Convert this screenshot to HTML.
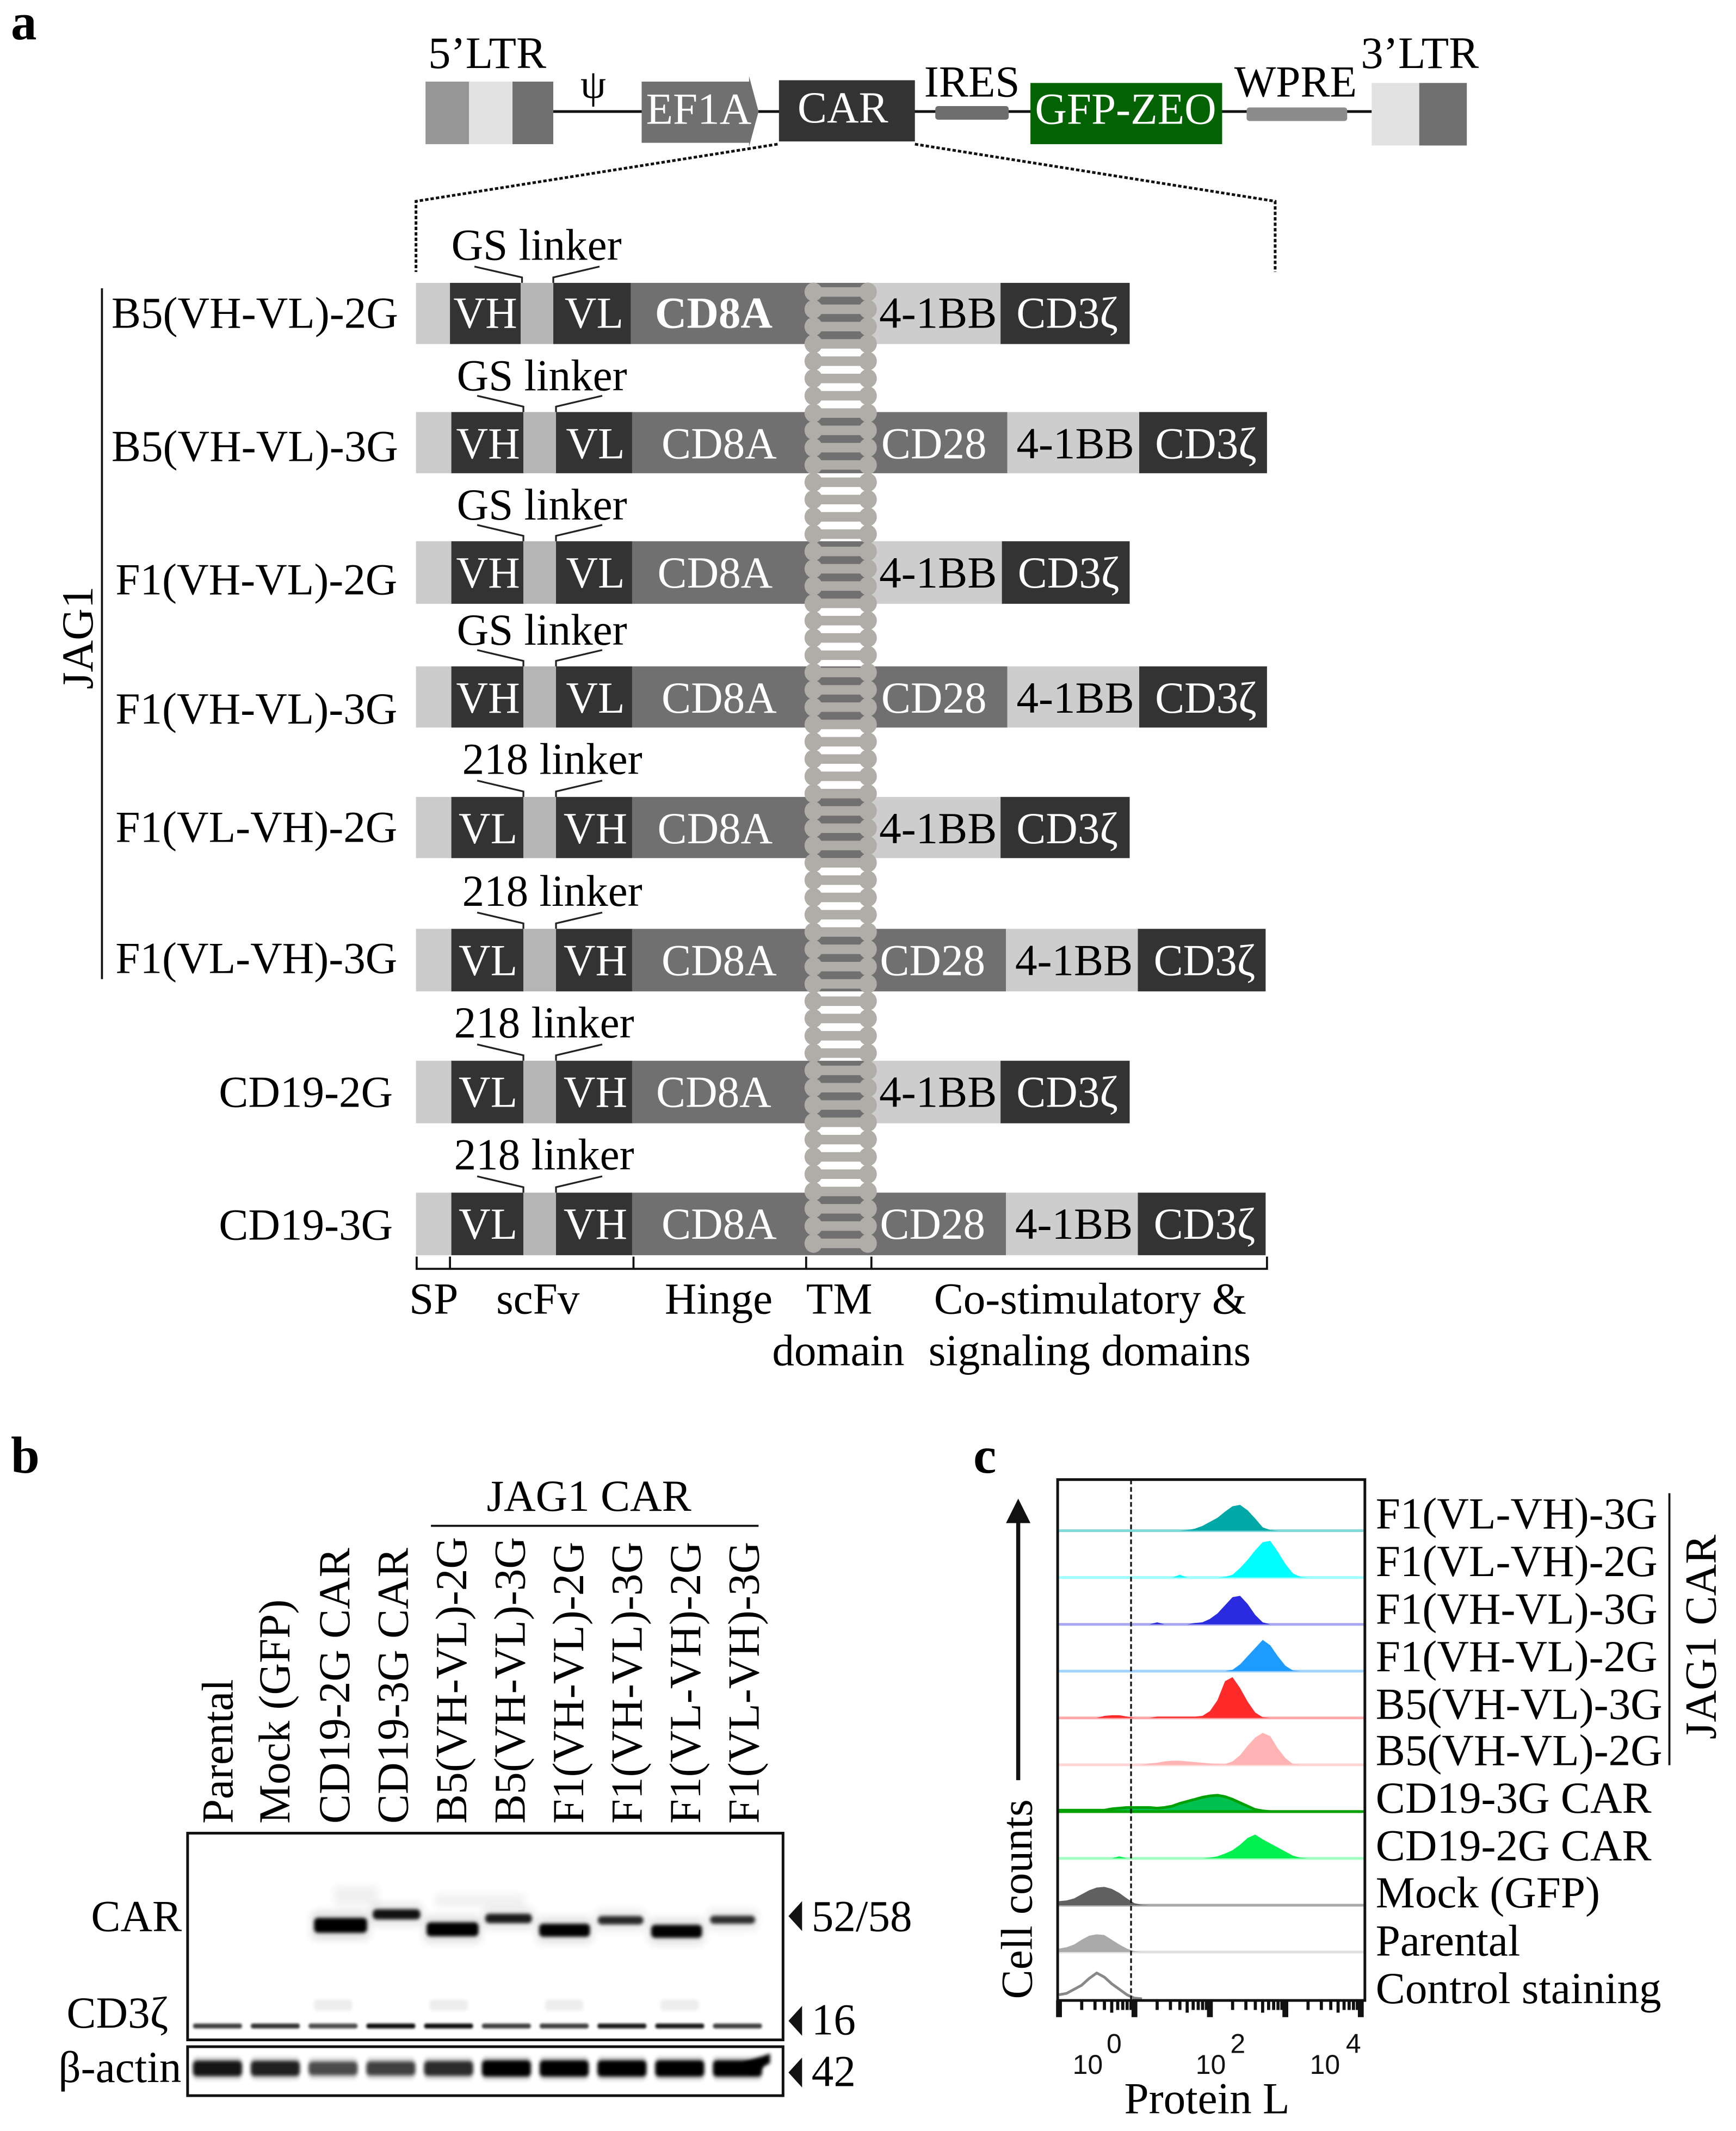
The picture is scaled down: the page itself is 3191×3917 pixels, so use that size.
<!DOCTYPE html>
<html lang="en">
<head>
<meta charset="utf-8">
<title>CAR constructs figure</title>
<style>
html,body{margin:0;padding:0;background:#fff;width:3191px;height:3917px;overflow:hidden}
svg{display:block}
text{font-family:"Liberation Serif","DejaVu Serif",serif;font-size:32.45px;fill:#000}
.w{fill:#fff}
.m{text-anchor:middle}
.b{font-weight:bold}
.pl{font-size:38px;font-weight:bold}
.ltr{font-size:33px}
.t{font-family:"Liberation Sans","DejaVu Sans",sans-serif;font-size:20px;fill:#111}
.sp{fill:#cccbcb}.dk{fill:#333}.gp{fill:#b5b5b5}.md{fill:#707070}.lt{fill:#cdcdcd}
</style>
</head>
<body>
<svg id="fig" xmlns="http://www.w3.org/2000/svg" width="3191" height="3917" viewBox="0 0 1277 1567" preserveAspectRatio="none">
<defs>
<filter id="bl" x="-30%" y="-200%" width="160%" height="500%"><feGaussianBlur stdDeviation="1.3"/></filter>
<filter id="bl2" x="-30%" y="-200%" width="160%" height="500%"><feGaussianBlur stdDeviation="3"/></filter>
<filter id="bl3" x="-30%" y="-300%" width="160%" height="700%"><feGaussianBlur stdDeviation="0.9"/></filter>
</defs>
<rect width="1277" height="1567" fill="#fff"/>

<text class="pl" x="8" y="29">a</text>
<text class="pl" x="8" y="1083">b</text>
<text class="pl" x="716" y="1083">c</text>

<g>
<line x1="407" y1="82" x2="1009" y2="82" stroke="#111" stroke-width="2"/>
<rect x="313" y="60" width="32" height="46" fill="#969696"/>
<rect x="345" y="60" width="32" height="46" fill="#e2e2e2"/>
<rect x="377" y="60" width="30" height="46" fill="#707070"/>
<polygon points="472,60 551,60 551,56 558,82 551,108 551,105 472,105" fill="#707070"/>
<rect x="573" y="59" width="100" height="45" fill="#333"/>
<rect x="688" y="78" width="54" height="10" rx="2" fill="#6e6e6e"/>
<rect x="758" y="61" width="141" height="45" fill="#036303"/>
<rect x="917" y="79" width="74" height="10" rx="2" fill="#8c8c8c"/>
<rect x="1009" y="61" width="35" height="46" fill="#e2e2e2"/>
<rect x="1044" y="61" width="35" height="46" fill="#707070"/>
<text class="ltr" x="315" y="50">5’LTR</text>
<text x="427" y="72" style="font-size:30px">ψ</text>
<text class="w m" x="514" y="91">EF1A</text>
<text class="w m" x="620" y="90">CAR</text>
<text class="m" x="715" y="71">IRES</text>
<text class="w m" x="828" y="91">GFP-ZEO</text>
<text class="m" x="953" y="71">WPRE</text>
<text class="ltr" x="1001" y="50">3’LTR</text>
<g fill="none" stroke="#111" stroke-width="2" stroke-dasharray="2.5 1.5">
<polyline points="572,106 306,148 306,200"/>
<polyline points="673,106 938,148 938,200"/>
</g>
</g>

<g>
<g>
<rect class="sp" x="306" y="208" width="25" height="45"/>
<rect class="dk" x="331" y="208" width="52" height="45"/>
<rect class="gp" x="383" y="208" width="24" height="45"/>
<rect class="dk" x="407" y="208" width="57" height="45"/>
<rect class="md" x="464" y="208" width="176" height="45"/>
<rect class="lt" x="640" y="208" width="96" height="45"/>
<rect class="dk" x="736" y="208" width="95" height="45"/>
</g>
<g>
<rect class="sp" x="306" y="303" width="26" height="45"/>
<rect class="dk" x="332" y="303" width="53" height="45"/>
<rect class="gp" x="385" y="303" width="24" height="45"/>
<rect class="dk" x="409" y="303" width="56" height="45"/>
<rect class="md" x="465" y="303" width="276" height="45"/>
<rect class="lt" x="741" y="303" width="97" height="45"/>
<rect class="dk" x="838" y="303" width="94" height="45"/>
</g>
<g>
<rect class="sp" x="306" y="398" width="26" height="46"/>
<rect class="dk" x="332" y="398" width="53" height="46"/>
<rect class="gp" x="385" y="398" width="24" height="46"/>
<rect class="dk" x="409" y="398" width="56" height="46"/>
<rect class="md" x="465" y="398" width="175" height="46"/>
<rect class="lt" x="640" y="398" width="97" height="46"/>
<rect class="dk" x="737" y="398" width="94" height="46"/>
</g>
<g>
<rect class="sp" x="306" y="490" width="26" height="45"/>
<rect class="dk" x="332" y="490" width="53" height="45"/>
<rect class="gp" x="385" y="490" width="24" height="45"/>
<rect class="dk" x="409" y="490" width="56" height="45"/>
<rect class="md" x="465" y="490" width="276" height="45"/>
<rect class="lt" x="741" y="490" width="97" height="45"/>
<rect class="dk" x="838" y="490" width="94" height="45"/>
</g>
<g>
<rect class="sp" x="306" y="586" width="26" height="45"/>
<rect class="dk" x="332" y="586" width="53" height="45"/>
<rect class="gp" x="385" y="586" width="24" height="45"/>
<rect class="dk" x="409" y="586" width="56" height="45"/>
<rect class="md" x="465" y="586" width="175" height="45"/>
<rect class="lt" x="640" y="586" width="96" height="45"/>
<rect class="dk" x="736" y="586" width="95" height="45"/>
</g>
<g>
<rect class="sp" x="306" y="683" width="26" height="46"/>
<rect class="dk" x="332" y="683" width="53" height="46"/>
<rect class="gp" x="385" y="683" width="24" height="46"/>
<rect class="dk" x="409" y="683" width="56" height="46"/>
<rect class="md" x="465" y="683" width="275" height="46"/>
<rect class="lt" x="740" y="683" width="97" height="46"/>
<rect class="dk" x="837" y="683" width="94" height="46"/>
</g>
<g>
<rect class="sp" x="306" y="780" width="26" height="46"/>
<rect class="dk" x="332" y="780" width="53" height="46"/>
<rect class="gp" x="385" y="780" width="24" height="46"/>
<rect class="dk" x="409" y="780" width="56" height="46"/>
<rect class="md" x="465" y="780" width="175" height="46"/>
<rect class="lt" x="640" y="780" width="96" height="46"/>
<rect class="dk" x="736" y="780" width="95" height="46"/>
</g>
<g>
<rect class="sp" x="306" y="877" width="26" height="46"/>
<rect class="dk" x="332" y="877" width="53" height="46"/>
<rect class="gp" x="385" y="877" width="24" height="46"/>
<rect class="dk" x="409" y="877" width="56" height="46"/>
<rect class="md" x="465" y="877" width="275" height="46"/>
<rect class="lt" x="740" y="877" width="97" height="46"/>
<rect class="dk" x="837" y="877" width="94" height="46"/>
</g>
</g>

<g id="coil"></g>

<g fill="none" stroke="#222" stroke-width="1.3">
<polyline points="349,196 384,204 384,208"/><polyline points="441,196 407,204 407,208"/>
<polyline points="351,291 385,299 385,303"/><polyline points="443,291 409,299 409,303"/>
<polyline points="351,386 385,394 385,398"/><polyline points="443,386 409,394 409,398"/>
<polyline points="351,478 385,486 385,490"/><polyline points="443,478 409,486 409,490"/>
<polyline points="351,574 385,582 385,586"/><polyline points="443,574 409,582 409,586"/>
<polyline points="351,671 385,679 385,683"/><polyline points="443,671 409,679 409,683"/>
<polyline points="351,768 385,776 385,780"/><polyline points="443,768 409,776 409,780"/>
<polyline points="351,865 385,873 385,877"/><polyline points="443,865 409,873 409,877"/>
</g>

<g>
<text x="332" y="191">GS linker</text>
<text x="336" y="287">GS linker</text>
<text x="336" y="382">GS linker</text>
<text x="336" y="474">GS linker</text>
<text x="340" y="569">218 linker</text>
<text x="340" y="666">218 linker</text>
<text x="334" y="763">218 linker</text>
<text x="334" y="860">218 linker</text>
</g>

<g>
<text x="82" y="241">B5(VH-VL)-2G</text>
<text x="82" y="339">B5(VH-VL)-3G</text>
<text x="85" y="437">F1(VH-VL)-2G</text>
<text x="85" y="532">F1(VH-VL)-3G</text>
<text x="85" y="619">F1(VL-VH)-2G</text>
<text x="85" y="715.5">F1(VL-VH)-3G</text>
<text x="161" y="814">CD19-2G</text>
<text x="161" y="911.5">CD19-3G</text>
<line x1="75" y1="212" x2="75" y2="720" stroke="#111" stroke-width="1.5"/>
<text class="m" transform="translate(68,469) rotate(-90)">JAG1</text>
</g>

<g>
<text class="w m" x="357" y="241">VH</text><text class="w m" x="437" y="241">VL</text><text class="w m b" x="525" y="241">CD8A</text><text class="m" x="690" y="241">4-1BB</text><text class="w m" x="785" y="241">CD3ζ</text>
<text class="w m" x="359" y="337">VH</text><text class="w m" x="438" y="337">VL</text><text class="w m" x="529" y="337">CD8A</text><text class="w m" x="687" y="337">CD28</text><text class="m" x="791" y="337">4-1BB</text><text class="w m" x="887" y="337">CD3ζ</text>
<text class="w m" x="359" y="432">VH</text><text class="w m" x="438" y="432">VL</text><text class="w m" x="526" y="432">CD8A</text><text class="m" x="690" y="432">4-1BB</text><text class="w m" x="786" y="432">CD3ζ</text>
<text class="w m" x="359" y="524">VH</text><text class="w m" x="438" y="524">VL</text><text class="w m" x="529" y="524">CD8A</text><text class="w m" x="687" y="524">CD28</text><text class="m" x="791" y="524">4-1BB</text><text class="w m" x="887" y="524">CD3ζ</text>
<text class="w m" x="359" y="620">VL</text><text class="w m" x="438" y="620">VH</text><text class="w m" x="526" y="620">CD8A</text><text class="m" x="690" y="620">4-1BB</text><text class="w m" x="785" y="620">CD3ζ</text>
<text class="w m" x="359" y="717">VL</text><text class="w m" x="438" y="717">VH</text><text class="w m" x="529" y="717">CD8A</text><text class="w m" x="686" y="717">CD28</text><text class="m" x="790" y="717">4-1BB</text><text class="w m" x="886" y="717">CD3ζ</text>
<text class="w m" x="359" y="814">VL</text><text class="w m" x="438" y="814">VH</text><text class="w m" x="525" y="814">CD8A</text><text class="m" x="690" y="814">4-1BB</text><text class="w m" x="785" y="814">CD3ζ</text>
<text class="w m" x="359" y="911">VL</text><text class="w m" x="438" y="911">VH</text><text class="w m" x="529" y="911">CD8A</text><text class="w m" x="686" y="911">CD28</text><text class="m" x="790" y="911">4-1BB</text><text class="w m" x="886" y="911">CD3ζ</text>
</g>

<g>
<path d="M306.5 924V933H932V924M331 924V933M466 924V933M593 924V933M641 924V933" fill="none" stroke="#111" stroke-width="1.5"/>
<text x="301" y="966">SP</text>
<text x="365" y="966">scFv</text>
<text x="489" y="966">Hinge</text>
<text x="593" y="966">TM</text>
<text x="568" y="1004">domain</text>
<text x="687" y="966">Co-stimulatory &amp;</text>
<text x="683" y="1004">signaling domains</text>
</g>

<g>
<text x="358" y="1111">JAG1 CAR</text>
<line x1="317" y1="1122" x2="558" y2="1122" stroke="#111" stroke-width="1.5"/>
<g id="lane-labels">
<text transform="translate(171,1341) rotate(-90)">Parental</text>
<text transform="translate(213,1341) rotate(-90)">Mock (GFP)</text>
<text transform="translate(257,1341) rotate(-90)">CD19-2G CAR</text>
<text transform="translate(300,1341) rotate(-90)">CD19-3G CAR</text>
<text transform="translate(343,1341) rotate(-90)">B5(VH-VL)-2G</text>
<text transform="translate(386,1341) rotate(-90)">B5(VH-VL)-3G</text>
<text transform="translate(429,1341) rotate(-90)">F1(VH-VL)-2G</text>
<text transform="translate(472,1341) rotate(-90)">F1(VH-VL)-3G</text>
<text transform="translate(515,1341) rotate(-90)">F1(VL-VH)-2G</text>
<text transform="translate(558,1341) rotate(-90)">F1(VL-VH)-3G</text>
</g>
<rect x="246" y="1387" width="32" height="14" fill="#000" opacity="0.06" filter="url(#bl2)"/>
<rect x="320" y="1393" width="66" height="9" fill="#000" opacity="0.06" filter="url(#bl2)"/>
<g id="blot-bands"></g>
<rect x="138" y="1348" width="438" height="152" fill="none" stroke="#111" stroke-width="2"/>
<rect x="138" y="1505" width="438" height="36" fill="none" stroke="#111" stroke-width="2"/>
<text x="67" y="1420">CAR</text>
<text x="49" y="1491">CD3ζ</text>
<text x="43" y="1531">β-actin</text>
<polygon points="590,1398 590,1420 580,1409" fill="#111"/>
<polygon points="590,1475 590,1497 580,1486" fill="#111"/>
<polygon points="590,1513 590,1535 580,1524" fill="#111"/>
<text x="597" y="1420">52/58</text>
<text x="597" y="1496">16</text>
<text x="597" y="1534">42</text>
</g>

<g>
<g id="hist"></g>
<line x1="832" y1="1088" x2="832" y2="1471" stroke="#111" stroke-width="1.3" stroke-dasharray="3.5 2"/>
<rect x="778" y="1088" width="226" height="383" fill="none" stroke="#111" stroke-width="2"/>
<g id="xticks"></g>
<text class="t" x="789" y="1525">10</text><text class="t" x="814" y="1509.5">0</text>
<text class="t" x="879.5" y="1525">10</text><text class="t" x="905" y="1509.5">2</text>
<text class="t" x="963.5" y="1525">10</text><text class="t" x="990" y="1509.5">4</text>
<text x="827" y="1554">Protein L</text>
<text transform="translate(759,1470) rotate(-90)">Cell counts</text>
<line x1="749" y1="1309" x2="749" y2="1118" stroke="#111" stroke-width="3"/>
<polygon points="749,1102 758,1120 740,1120" fill="#111"/>
<g>
<text x="1012" y="1124">F1(VL-VH)-3G</text>
<text x="1012" y="1159">F1(VL-VH)-2G</text>
<text x="1012" y="1194">F1(VH-VL)-3G</text>
<text x="1012" y="1229">F1(VH-VL)-2G</text>
<text x="1012" y="1264">B5(VH-VL)-3G</text>
<text x="1012" y="1298">B5(VH-VL)-2G</text>
<text x="1012" y="1333">CD19-3G CAR</text>
<text x="1012" y="1368">CD19-2G CAR</text>
<text x="1012" y="1402.5">Mock (GFP)</text>
<text x="1012" y="1438">Parental</text>
<text x="1012" y="1473">Control staining</text>
</g>
<line x1="1228" y1="1098" x2="1228" y2="1298" stroke="#111" stroke-width="1.5"/>
<text transform="translate(1262,1279) rotate(-90)">JAG1 CAR</text>
</g>

<script>
// --- Blot data ---
var laneNames = ['Parental','Mock','CD19-2G','CD19-3G','B5-VHVL-2G','B5-VHVL-3G','F1-VHVL-2G','F1-VHVL-3G','F1-VLVH-2G','F1-VLVH-3G'];
var carApparentKda = [null,null,54.2,60.3,52,58,51.5,57,50.9,57.3];
var carIntensity = [0,0,1,0.5,0.9,0.42,0.8,0.32,0.8,0.28];
var cd3zIntensity = [0.75,0.8,0.7,0.95,0.95,0.75,0.75,0.9,0.9,0.75];
var smudgeIntensity = [0,0,0.07,0,0.07,0,0.07,0,0.07,0];
var actinIntensity = [0.9,0.85,0.65,0.7,0.8,1,1,1,1,1];

// --- Histogram data ---
var binsLog = [0,0.1,0.2,0.3,0.4,0.5,0.6,0.7,0.8,0.9,1,1.1,1.2,1.3,1.4,1.5,1.6,1.7,1.8,1.9,2,2.1,2.2,2.3,2.4,2.5,2.6,2.7,2.8,2.9,3,3.1,3.2,3.3,3.4,3.5,3.6,3.7,3.8,3.9,4];
var f1VlVh3g = [0,0,0,0,0,0,0,0,0,0,0,0,0,0,0,0,0,0.5,1.5,3.5,6.5,9.5,14,18,19,15,9,2.5,0.5,0,0,0,0,0,0,0,0,0,0,0,0];
var f1VlVh2g = [0,0,0,0,0,0,0,0,0,0,0,0,0,0,0,0,2,0,0,0,0,0,0.5,2,7,13,20,26,27,19,10,3,0.5,0,0,0,0,0,0,0,0];
var f1VhVl3g = [0,0,0,0,0,0,0,0,0,0,0,0,0,1.5,0,0,0,0,1,1.5,4,8,14,20,21,15,7,1.5,0,0,0,0,0,0,0,0,0,0,0,0,0];
var f1VhVl2g = [0,0,0,0,0,0,0,0,0,0,0,0,0,0,0,0,0,0,0,0,0,0,0,1,5,11,17,23,19,11,4,0.5,0,0,0,0,0,0,0,0,0];
var b5VhVl3g = [0,0,0,0,0,0,1.5,2,2,1,0,0,0,1,1,1,1,1,1,1.5,5,13,27,30,22,12,4,0.5,0,0,0,0,0,0,0,0,0,0,0,0,0];
var b5VhVl2g = [0,0,0,0,0,0,0,0,0,0,0,0,1,1.5,2.5,3,3,2.5,2,1.5,1,0.5,0.5,2.5,7,14,20,23.5,21,12,5,0.5,0,0,0,0,0,0,0,0,0];
var cd193g = [1,1,1,1,1,1,1,2,2.5,3,3,3,3,2.5,3,4,6,7.5,9,10.5,11.5,12,11,9,6.5,4,1.5,0.5,0,0,0,0,0,0,0,0,0,0,0,0,0];
var cd192g = [0,0,0,0,0,0,0,0,1.5,0,0,0,0,0,0,0,0,0,0,0,0.5,1.5,3.5,6,10,15,17.5,14,11,8,5,2,0.5,0,0,0,0,0,0,0,0];
var mockGfp = [3,3.5,5,8,11,13,13.5,12,9,5,1.5,0.3,0,0,0,0,0,0,0,0,0,0,0,0,0,0,0,0,0,0,0,0,0,0,0,0,0,0,0,0,0];
var parental = [2.5,3.5,5.5,9,12,13,12.5,9,5.5,2.5,0.5,0,0,0,0,0,0,0,0,0,0,0,0,0,0,0,0,0,0,0,0,0,0,0,0,0,0,0,0,0,0];
var controlStaining = [3,4,7,10,15,19,16,11,7,3,0.5,0,0,0,0,0,0,0,0,0,0,0,0,0,0,0,0,0,0,0,0,0,0,0,0,0,0,0,0,0,0];
var majorDecades = [0,1,2,3,4];
var minorMultipliers = [2,3,4,5,6,7,8,9];

var NS = 'http://www.w3.org/2000/svg';
function mk(parent, tag, attrs) {
  var e = document.createElementNS(NS, tag);
  for (var k in attrs) e.setAttribute(k, attrs[k]);
  parent.appendChild(e);
  return e;
}

// Transmembrane coil: paired beads joined by rungs
var coil = document.getElementById('coil');
for (var r = 0; r <= 55; r++) {
  var cy = 214.7 + 12.72 * r;
  var rung = mk(coil, 'rect', {x:598, y:cy - 3.5, width:41, height:7, fill:'#b0aca8'});
  
  
  var ellL = mk(coil, 'ellipse', {cx:598.4, cy:cy, rx:6.6, ry:6.9, fill:'#b0aca8'});
  
  
  var ellR = mk(coil, 'ellipse', {cx:638.4, cy:cy, rx:6.6, ry:6.9, fill:'#b0aca8'});
  
  
}

// Blot axis functions
function laneX(i) { return 160 + 42.5 * i; }
function carLaneX(i) { return 250.5 + 41.2 * (i - 2); }
function carY(kda) { return 1418.7 - (kda - 52) * 1.33; }

var blot = document.getElementById('blot-bands');
laneNames.forEach(function (name, i) {
  if (carApparentKda[i] !== null) {
    var v = carIntensity[i];
    var th = 4 + v * 7;
    var w = 31 + v * 8;
    var halo = mk(blot, 'rect', {x:carLaneX(i) - w / 2 - 2, y:carY(carApparentKda[i]) - th / 2 - 5, width:w + 4, height:th + 10, rx:4, fill:'#000', opacity:0.05 + 0.07 * v, filter:'url(#bl2)'});
    
    
    var b = mk(blot, 'rect', {x:carLaneX(i) - w / 2, y:carY(carApparentKda[i]) - th / 2, width:w, height:th, rx:3, fill:'#000', opacity:0.45 + 0.55 * v + (v > 0.7 ? 0.1 : 0.2), filter:'url(#bl)'});
    
    
  }
  if (smudgeIntensity[i] > 0) {
    var sm = mk(blot, 'rect', {x:laneX(i) - 14, y:1470.5, width:28, height:8, rx:2, fill:'#000', opacity:smudgeIntensity[i], filter:'url(#bl)'});
    
    
  }
  var c = mk(blot, 'rect', {x:laneX(i) - 18, y:1488, width:36, height:3.6, rx:1.5, fill:'#000', opacity:cd3zIntensity[i], filter:'url(#bl3)'});
  
  
  var d = actinIntensity[i];
  var h = 6 + 6 * d;
  var halo2 = mk(blot, 'rect', {x:laneX(i) - 18, y:1521 - h / 2 - 3, width:36, height:h + 6, rx:3, fill:'#000', opacity:0.15, filter:'url(#bl)'});
  
  
  var a = mk(blot, 'rect', {x:laneX(i) - 18, y:1521 - h / 2, width:36, height:h, rx:3, fill:'#000', opacity:d, filter:'url(#bl)'});
  
  
});
var tail = mk(blot, 'polygon', {points:[
  (laneX(9) + 4) + ',1517',
  (laneX(9) + 24) + ',1510',
  (laneX(9) + 24) + ',1517',
  (laneX(9) + 10) + ',1525'
].join(' '), fill:'#000', filter:'url(#bl)'});



// Histogram axis functions
function xLog(v) { return 779 + 55.5 * v; }
function rowBase(i) { return 1125.6 + 34.42 * i; }
function yCount(i, c) { return rowBase(i) - c; }

var seriesList = [f1VlVh3g, f1VlVh2g, f1VhVl3g, f1VhVl2g, b5VhVl3g, b5VhVl2g, cd193g, cd192g, mockGfp, parental, controlStaining];
var seriesColors = ['#00a8a8','#00ffff','#2a2ae0','#1e9bff','#ff2a2a','#ffb3b3','#00c050','#00f050','#606060','#aaaaaa','none'];
var seriesStroke = ['none','none','none','none','none','none','#00a000','none','none','none','#888888'];
var baseColors = ['#80d8d8','#a0ffff','#a8a8f0','#a0d4ff','#ffa8a8','#ffd4d4','#00a000','#a0ffc0','#a8a8a8','#e0e0e0','none'];

var hist = document.getElementById('hist');
seriesList.forEach(function (vals, i) {
  if (baseColors[i] !== 'none') {
    var bl = mk(hist, 'line', {x1:xLog(0), x2:1003, y1:rowBase(i), y2:rowBase(i), stroke:baseColors[i], 'stroke-width':2});
    
    
  }
  var pts = binsLog.map(function (v, j) { return xLog(v) + ',' + yCount(i, vals[j]); });
  var poly;
  if (seriesColors[i] === 'none') {
    poly = mk(hist, 'polyline', {points:pts.slice(0, 12).join(' '), fill:'none', stroke:seriesStroke[i], 'stroke-width':2});
  } else {
    pts.unshift(xLog(binsLog[0]) + ',' + rowBase(i));
    pts.push(xLog(binsLog[binsLog.length - 1]) + ',' + rowBase(i));
    poly = mk(hist, 'polygon', {points:pts.join(' '), fill:seriesColors[i], stroke:seriesStroke[i], 'stroke-width':seriesStroke[i] === 'none' ? 0 : 2});
  }
  
  
});

var xt = document.getElementById('xticks');
majorDecades.forEach(function (dec) {
  var maj = mk(xt, 'line', {x1:xLog(dec), x2:xLog(dec), y1:1471, y2:1483.3, stroke:'#111', 'stroke-width':4.3});
  
  
  if (dec < 4) {
    minorMultipliers.forEach(function (m) {
      var v = dec + Math.log10(m);
      var mi = mk(xt, 'line', {x1:xLog(v), x2:xLog(v), y1:1471, y2: m === 5 ? 1480 : 1478, stroke:'#111', 'stroke-width':2.3});
      
      
    });
  }
});
</script>
</svg>
</body>
</html>
